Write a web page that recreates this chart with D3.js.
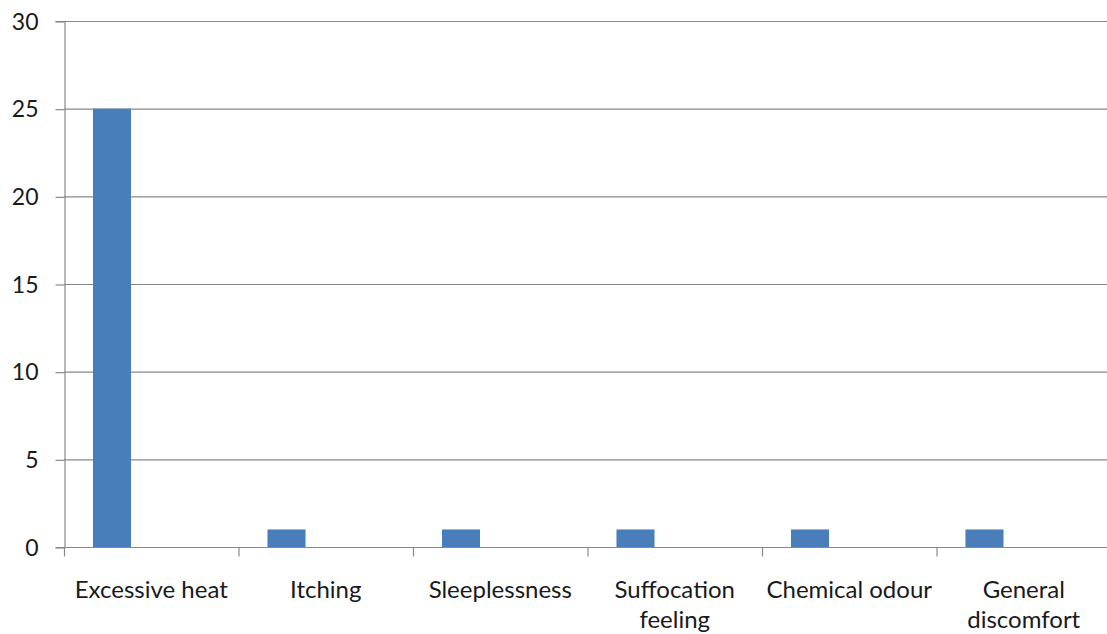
<!DOCTYPE html>
<html>
<head>
<meta charset="utf-8">
<script src="https://cdn.jsdelivr.net/npm/d3@7"></script>
<style>
  body { margin: 0; background: #fff; }
  text { font-family: Lato, "Open Sans", sans-serif; fill: #1a1a1a; }
</style>
</head>
<body>
<svg id="chart" width="1107" height="634"></svg>
<script>
// symptom categories and counts
var categories = ["Excessive heat", "Itching", "Sleeplessness", "Suffocation feeling", "Chemical odour", "General discomfort"];
var labelLines = [["Excessive heat"], ["Itching"], ["Sleeplessness"], ["Suffocation", "feeling"], ["Chemical odour"], ["General", "discomfort"]];
var counts = [25, 1, 1, 1, 1, 1];
var yTicks = [0, 5, 10, 15, 20, 25, 30];

var svg = d3.select("#chart");
var plotLeft = 64, plotRight = 1111, plotTop = 21, plotBottom = 547;
var gridColor = "#898989";

var x = d3.scaleBand().domain(categories).range([plotLeft, plotRight]).padding(0);
var y = d3.scaleLinear().domain([0, 30]).range([plotBottom, plotTop]);

// gridlines
svg.append("g")
  .selectAll("line")
  .data(yTicks.filter(function (d) { return d > 0; }))
  .join("line")
  .attr("x1", plotLeft).attr("x2", plotRight)
  .attr("y1", function (d) { return y(d) + 0.5; })
  .attr("y2", function (d) { return y(d) + 0.5; })
  .attr("stroke", gridColor).attr("stroke-width", 1.2);

// y axis
var yAxis = svg.append("g")
  .attr("transform", "translate(" + (plotLeft + 0.5) + ",0)")
  .call(d3.axisLeft(y).tickValues(yTicks).tickSize(9).tickPadding(17));
yAxis.select(".domain").attr("stroke", gridColor).attr("stroke-width", 1.2);
yAxis.selectAll(".tick line").attr("stroke", gridColor).attr("stroke-width", 1.2)
  .attr("transform", "translate(0,0.5)");
yAxis.selectAll("text").style("font-size", "23px").attr("fill", "#1a1a1a").attr("dy", "0.36em");

// bars
var bw = x.bandwidth();
svg.append("g")
  .selectAll("rect")
  .data(counts)
  .join("rect")
  .attr("x", function (d, i) { return x(categories[i]) + bw * 0.166; })
  .attr("width", bw * 0.218)
  .attr("y", function (d) { return y(d); })
  .attr("height", function (d) { return y(0) - y(d); })
  .attr("fill", "#4a7ebb");

// x axis
var xAxis = svg.append("g").attr("transform", "translate(0," + (plotBottom + 0.5) + ")");
xAxis.append("line").attr("x1", plotLeft).attr("x2", plotRight)
  .attr("stroke", gridColor).attr("stroke-width", 1.2);
xAxis.selectAll(".xt")
  .data(categories.concat([null]))
  .join("line")
  .attr("class", "xt")
  .attr("x1", function (d) { return (d === null ? plotRight : x(d)) + 0.5; })
  .attr("x2", function (d) { return (d === null ? plotRight : x(d)) + 0.5; })
  .attr("y1", 0).attr("y2", 9)
  .attr("stroke", gridColor).attr("stroke-width", 1.2);

var labels = xAxis.selectAll(".xl")
  .data(categories)
  .join("text")
  .attr("class", "xl")
  .attr("text-anchor", "middle")
  .style("font-size", "24px")
  .attr("transform", function (d) { return "translate(" + (x(d) + bw / 2) + ",50)"; });
labels.selectAll("tspan")
  .data(function (d, i) { return labelLines[i]; })
  .join("tspan")
  .attr("x", 0)
  .attr("dy", function (d, i) { return i === 0 ? 0 : 30; })
  .text(function (d) { return d; });
</script>
</body>
</html>
